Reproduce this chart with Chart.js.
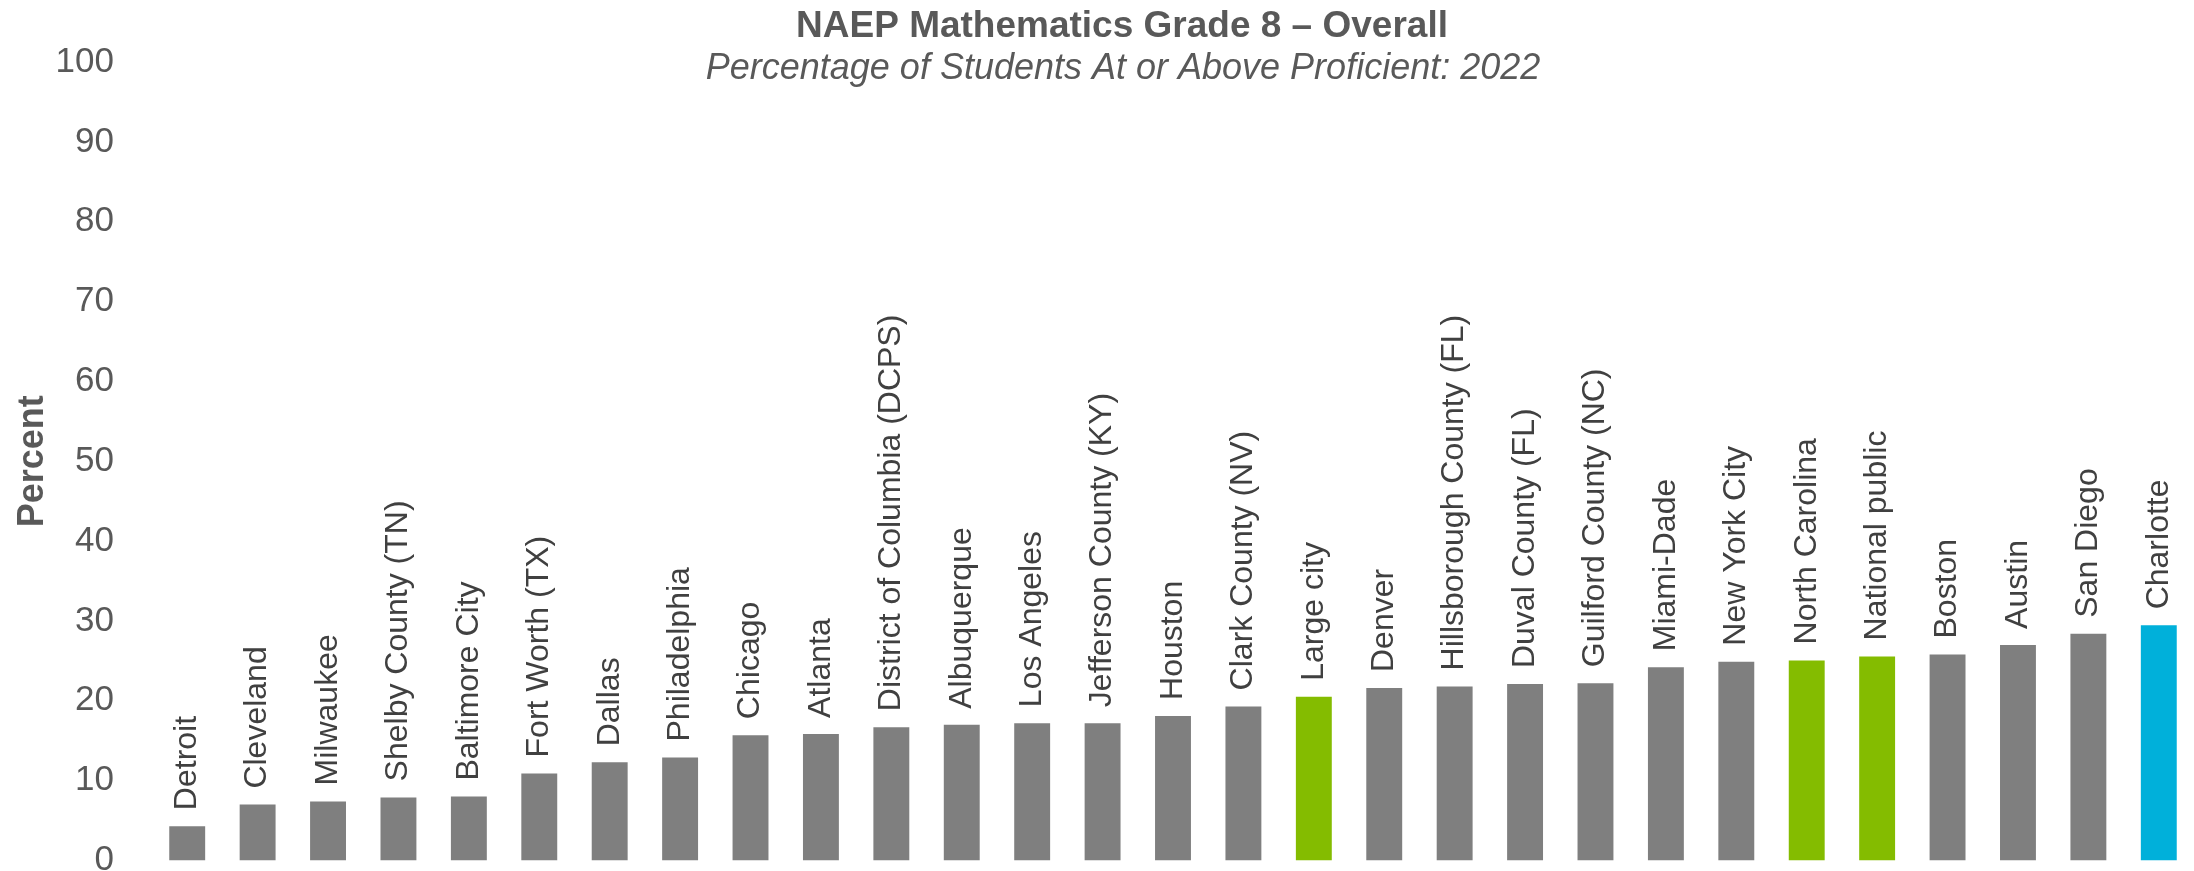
<!DOCTYPE html>
<html>
<head>
<meta charset="utf-8">
<script src="https://cdn.jsdelivr.net/npm/chart.js@4"></script>
<style>
  html, body { margin: 0; padding: 0; background: #fff; }
  #wrap { width: 2194px; height: 871px; position: relative; }
</style>
</head>
<body>
<div id="wrap"><canvas id="naepChart"></canvas></div>
<script>
const districts = [
    'Detroit', 'Cleveland', 'Milwaukee', 'Shelby County (TN)', 'Baltimore City',
    'Fort Worth (TX)', 'Dallas', 'Philadelphia', 'Chicago', 'Atlanta',
    'District of Columbia (DCPS)', 'Albuquerque', 'Los Angeles', 'Jefferson County (KY)', 'Houston',
    'Clark County (NV)', 'Large city', 'Denver', 'Hillsborough County (FL)', 'Duval County (FL)',
    'Guilford County (NC)', 'Miami-Dade', 'New York City', 'North Carolina', 'National public',
    'Boston', 'Austin', 'San Diego', 'Charlotte'
];

const pctProficient = [
    4.3, 7.0, 7.4, 7.9, 8.0,
    10.9, 12.3, 12.9, 15.7, 15.85,
    16.7, 17.0, 17.2, 17.2, 18.1,
    19.3, 20.5, 21.6, 21.8, 22.1,
    22.2, 24.2, 24.9, 25.05, 25.55,
    25.8, 27.0, 28.4, 29.45
];

const yTicks = [0, 10, 20, 30, 40, 50, 60, 70, 80, 90, 100];

const chartTitle = 'NAEP Mathematics Grade 8 \u2013 Overall';
const chartSubtitle = 'Percentage of Students At or Above Proficient: 2022';

// comparison bars are green, Charlotte is blue
const comparisonGroups = ['Large city', 'North Carolina', 'National public'];
const focusDistrict = 'Charlotte';

const FONT = "'Liberation Sans', Arial, sans-serif";

const barColors = districts.map(d => {
    if (d === focusDistrict) return '#00B0DA';
    if (comparisonGroups.includes(d)) return '#84BC00';
    return '#7F7F7F';
});

// draws the rotated district names above each bar + the two title lines
const barLabelPlugin = {
    id: 'barLabels',
    afterDatasetsDraw(chart) {
        const ctx = chart.ctx;
        const meta = chart.getDatasetMeta(0);
        ctx.save();
        ctx.font = '32px ' + FONT;
        ctx.fillStyle = '#404040';
        ctx.textAlign = 'left';
        ctx.textBaseline = 'middle';
        meta.data.forEach((bar, i) => {
            ctx.save();
            ctx.translate(bar.x, bar.y - 16);
            ctx.rotate(-Math.PI / 2);
            ctx.fillText(chart.data.labels[i], 0, 0);
            ctx.restore();
        });
        ctx.restore();
    },
    afterDraw(chart) {
        const ctx = chart.ctx;
        ctx.save();
        ctx.fillStyle = '#595959';
        ctx.textAlign = 'center';
        ctx.textBaseline = 'alphabetic';
        ctx.font = 'bold 37px ' + FONT;
        ctx.fillText(chartTitle, 1122, 37);
        ctx.font = 'italic 36px ' + FONT;
        ctx.fillText(chartSubtitle, 1123, 79);
        ctx.restore();
    }
};

document.addEventListener('DOMContentLoaded', function () {
    const ctx = document.getElementById('naepChart').getContext('2d');

    new Chart(ctx, {
        type: 'bar',
        data: {
            labels: districts,
            datasets: [{
                label: 'Percent',
                data: pctProficient,
                backgroundColor: barColors,
                borderWidth: 0,
                categoryPercentage: 1,
                barPercentage: 0.51
            }]
        },
        options: {
            responsive: true,
            maintainAspectRatio: false,
            animation: false,
            layout: { padding: { top: 62, bottom: 10.5, left: 0, right: -5.5 } },
            plugins: {
                legend: { display: false },
                tooltip: { enabled: false }
            },
            scales: {
                x: {
                    grid: { display: false },
                    border: { display: false },
                    ticks: { display: false },
                    afterFit: axis => {
                        axis.height = 0;
                        axis.paddingLeft = 0;
                        axis.paddingRight = 0;
                    }
                },
                y: {
                    min: 0,
                    max: 100,
                    afterBuildTicks: axis => {
                        axis.ticks = yTicks.map(v => ({ value: v }));
                    },
                    afterFit: axis => {
                        axis.width = 152;
                        axis.paddingTop = 0;
                        axis.paddingBottom = 0;
                    },
                    grid: { display: false },
                    border: { display: false },
                    ticks: {
                        color: '#595959',
                        padding: 30,
                        font: { family: FONT, size: 35, lineHeight: 1 }
                    },
                    title: {
                        display: true,
                        text: 'Percent',
                        color: '#595959',
                        padding: { top: 11, bottom: 0 },
                        font: { family: FONT, size: 36, weight: 'bold' }
                    }
                }
            }
        },
        plugins: [barLabelPlugin]
    });
});
</script>
</body>
</html>
